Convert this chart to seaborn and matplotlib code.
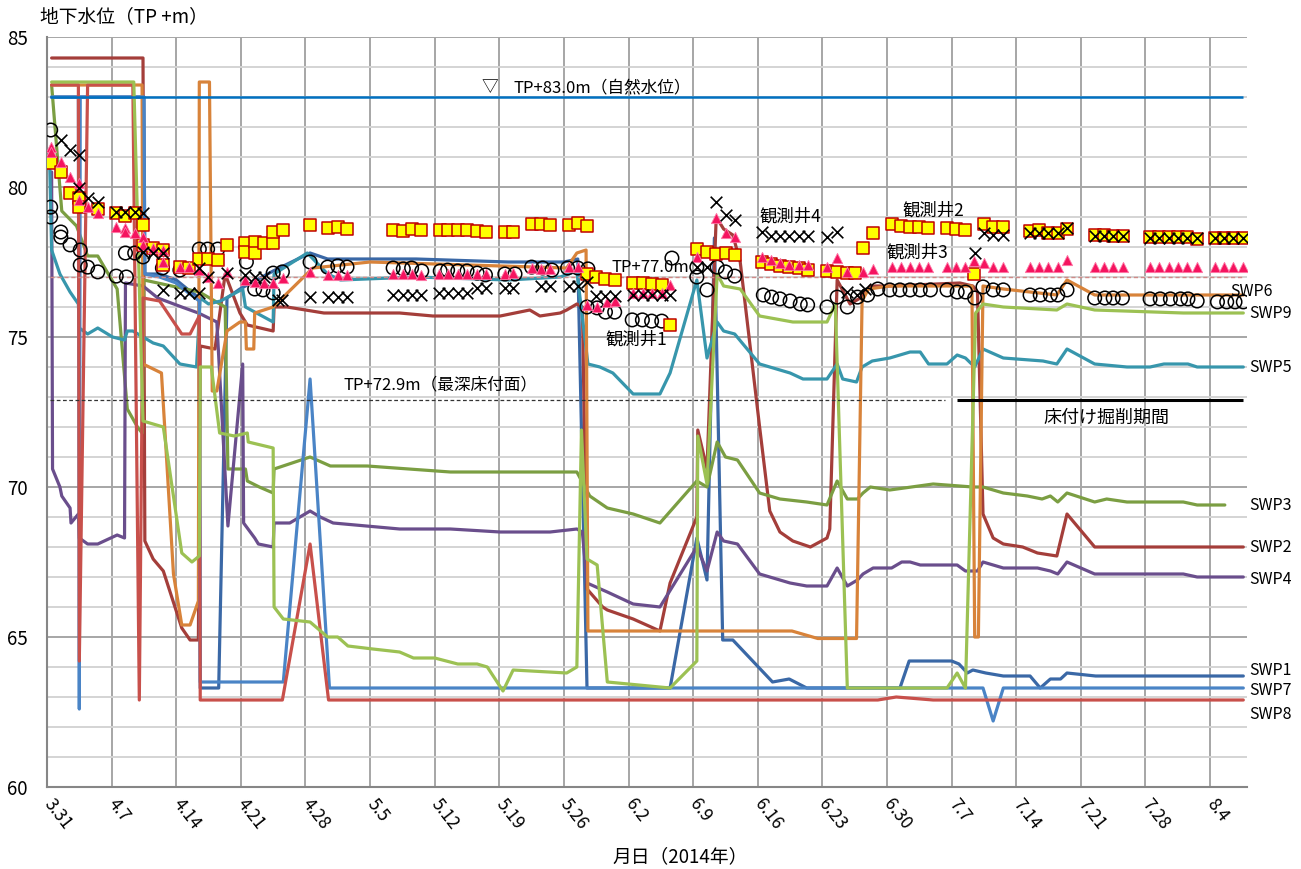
import matplotlib
matplotlib.use("Agg")
import matplotlib.pyplot as plt
from matplotlib.ticker import MultipleLocator
import pandas as pd
import seaborn as sns

# day 0 = 2014/3/31
week_ticks = [0, 7, 14, 21, 28, 35, 42, 49, 56, 63, 70, 77, 84, 91, 98, 105, 112, 119, 126]
week_labels = ["3.31", "4.7", "4.14", "4.21", "4.28", "5.5", "5.12", "5.19", "5.26", "6.2",
               "6.9", "6.16", "6.23", "6.30", "7.7", "7.14", "7.21", "7.28", "8.4"]

swp1_day = [0.5, 10.5, 10.6, 12.2, 14.0, 15.2, 16.5, 16.6, 18.6, 19.5, 20.9, 24.5, 28.5, 30.4, 40, 50,
            56.0, 57.5, 58.5, 67.5, 70.4, 71.5, 72.3, 73.2, 74.3, 78.6, 80.4, 82.3, 92.4, 93.4, 98.0,
            98.8, 99.7, 100.3, 101.7, 103.6, 106.5, 107.6, 108.7, 109.8, 110.5, 113.6, 114.3, 129.6]
swp1_lvl = [83.0, 83.0, 77.1, 77.1, 76.9, 76.6, 76.3, 63.3, 63.3, 76.3, 76.6, 77.2, 77.8, 77.6, 77.6, 77.5,
            77.5, 77.6, 63.3, 63.3, 68.3, 66.9, 78.3, 64.9, 64.9, 63.5, 63.6, 63.3, 63.3, 64.2, 64.2,
            64.1, 63.8, 63.9, 63.8, 63.7, 63.7, 63.3, 63.6, 63.6, 63.8, 63.7, 63.7, 63.7]

swp2_day = [0.5, 10.4, 10.6, 11.5, 12.6, 14.6, 15.5, 16.4, 16.6, 18.2, 19.3, 20.9, 21.7, 24.5, 24.6, 26.0,
            30.0, 35.0, 38.2, 41.8, 45.0, 49.1, 52.3, 53.4, 55.6, 56.3, 57.4, 58.0, 58.5, 60.2, 60.7, 63.5,
            66.4, 67.5, 70.4, 70.5, 71.5, 72.5, 73.3, 74.3, 75.1, 77.2, 78.3, 79.4, 80.8, 82.7, 84.5, 84.8,
            85.6, 87.0, 88.1, 89.2, 91.3, 98.9, 100.3, 100.8, 101.4, 102.5, 103.6, 105.7, 107.3, 109.4,
            110.5, 113.5, 129.6]
swp2_lvl = [84.3, 84.3, 68.2, 67.6, 67.2, 65.3, 64.9, 64.9, 74.7, 74.6, 77.1, 75.8, 75.4, 75.2, 76.0, 76.0,
            75.8, 75.8, 75.8, 75.7, 75.7, 75.7, 75.9, 75.7, 75.8, 75.9, 76.1, 76.0, 66.6, 66.0, 65.9, 65.6,
            65.2, 66.8, 69.0, 71.9, 70.6, 79.0, 78.6, 78.4, 77.5, 72.0, 69.2, 68.5, 68.2, 68.0, 68.3, 68.6,
            76.9, 76.1, 76.3, 76.7, 76.7, 76.8, 76.7, 76.5, 69.1, 68.3, 68.1, 68.0, 67.8, 67.7,
            69.1, 68.0, 68.0]

swp3_day = [0.5, 1.6, 3.2, 4.4, 5.5, 7.6, 8.7, 9.8, 10.3, 10.5, 16.5, 19.3, 19.6, 21.5, 21.7, 23.0,
            24.5, 24.6, 28.5, 30.7, 34.7, 43.7, 55.0, 57.4, 58.8, 60.7, 63.5, 66.4, 70.4, 71.5, 72.6,
            73.5, 74.8, 77.2, 79.4, 82.3, 84.5, 85.6, 86.7, 87.8, 88.4, 89.2, 91.3, 96.0, 100.3, 101.4,
            103.6, 106.2, 107.8, 108.7, 109.5, 110.5, 113.5, 114.8, 117.0, 123.1, 124.6, 127.6]
swp3_lvl = [83.4, 79.2, 78.7, 77.7, 77.7, 76.6, 72.6, 72.0, 71.8, 76.9, 76.5, 76.0, 70.6, 70.6, 70.2, 70.0,
            69.8, 70.6, 71.0, 70.7, 70.7, 70.5, 70.5, 70.5, 69.7, 69.3, 69.1, 68.8, 70.2, 70.0, 71.5,
            71.0, 70.9, 69.8, 69.6, 69.5, 69.4, 70.2, 69.6, 69.6, 69.8, 70.0, 69.9, 70.1, 70.0, 70.0,
            69.8, 69.7, 69.6, 69.7, 69.5, 69.8, 69.5, 69.6, 69.5, 69.5, 69.4, 69.4]

swp4_day = [0.5, 0.6, 1.4, 1.6, 2.5, 2.6, 3.4, 3.5, 4.4, 5.5, 7.6, 8.4, 8.5, 10.4, 12.0, 14.6, 16.4, 18.4,
            19.6, 21.2, 21.3, 22.5, 22.9, 24.5, 24.6, 26.3, 28.5, 29.6, 31.0, 38.2, 43.7, 49.1, 54.5, 57.4,
            58.0, 58.5, 60.7, 63.5, 66.4, 70.4, 71.5, 72.6, 73.3, 74.8, 77.2, 80.5, 82.3, 84.5, 85.6, 86.7,
            87.8, 88.4, 89.5, 91.5, 92.6, 93.5, 94.6, 98.6, 99.5, 100.8, 101.4, 103.6, 107.3, 108.7, 109.5,
            110.5, 113.5, 114.8, 116.5, 123.1, 124.6, 129.6]
swp4_lvl = [80.5, 70.6, 70.0, 69.7, 69.3, 68.8, 69.1, 68.3, 68.1, 68.1, 68.4, 68.3, 76.8, 76.7, 76.3, 76.0,
            75.8, 75.5, 68.7, 74.1, 68.8, 68.3, 68.1, 68.0, 68.8, 68.8, 69.2, 69.0, 68.8, 68.6, 68.6, 68.5,
            68.5, 68.6, 68.5, 66.8, 66.5, 66.1, 66.0, 68.0, 67.2, 68.5, 68.2, 68.1, 67.1, 66.8, 66.7, 66.7,
            67.3, 66.7, 66.9, 67.1, 67.3, 67.3, 67.5, 67.5, 67.4, 67.4, 67.2, 67.2, 67.5, 67.3, 67.3, 67.2,
            67.1, 67.5, 67.1, 67.1, 67.1, 67.1, 67.0, 67.0]

swp5_day = [0.3, 0.5, 1.4, 2.5, 3.4, 3.5, 4.4, 5.5, 7.1, 8.4, 8.7, 9.3, 10.4, 11.5, 12.6, 14.4, 16.2, 16.6,
            17.5, 18.8, 21.2, 21.5, 24.5, 24.6, 28.2, 30.4, 31.8, 40.0, 50.0, 55.6, 57.4, 58.6, 59.9, 61.3,
            63.5, 66.4, 67.5, 70.4, 71.5, 72.6, 73.3, 74.5, 77.2, 80.5, 81.9, 84.5, 85.6, 86.2, 87.7, 88.3,
            89.4, 91.3, 92.4, 93.5, 94.6, 95.5, 97.5, 98.6, 99.5, 100.5, 101.4, 103.6, 107.9, 109.4, 110.5,
            113.5, 117.0, 119.5, 121.0, 123.6, 124.6, 129.6]
swp5_lvl = [80.7, 77.9, 77.1, 76.5, 76.1, 75.3, 75.1, 75.3, 75.0, 74.9, 75.2, 75.2, 75.0, 74.8, 74.7, 74.1,
            74.0, 76.3, 76.1, 76.2, 76.6, 76.0, 75.5, 77.1, 77.8, 77.1, 76.9, 77.0, 76.9, 77.0, 77.2, 74.1,
            74.0, 73.8, 73.1, 73.1, 73.8, 76.9, 74.3, 75.5, 75.2, 75.1, 74.1, 73.8, 73.6, 73.6, 74.1, 73.6,
            73.5, 74.0, 74.2, 74.3, 74.4, 74.5, 74.5, 74.1, 74.1, 74.4, 74.3, 74.0, 74.6, 74.3, 74.2, 74.1,
            74.6, 74.1, 74.0, 74.0, 74.1, 74.1, 74.0, 74.0]

swp6_day = [0.5, 10.3, 10.4, 12.4, 13.7, 14.6, 15.5, 16.4, 16.5, 17.6, 17.9, 18.4, 19.5, 20.9, 21.5, 21.6,
            22.4, 22.5, 24.5, 28.8, 35.0, 56.3, 57.4, 58.4, 58.6, 64.0, 80.7, 83.5, 87.7, 88.3, 89.0, 91.3,
            100.2, 100.5, 100.9, 101.4, 103.6, 109.4, 110.5, 113.5, 129.6]
swp6_lvl = [83.4, 83.4, 74.1, 73.8, 67.1, 65.4, 65.4, 66.2, 83.5, 83.5, 73.2, 73.2, 75.2, 75.5, 75.5, 74.6,
            74.6, 75.8, 76.0, 77.3, 77.5, 77.3, 77.8, 77.9, 65.2, 65.2, 65.2, 64.95, 64.95, 76.2, 76.6, 76.7,
            76.7, 65.0, 65.0, 76.7, 76.6, 76.4, 76.9, 76.4, 76.4]

swp7_day = [0.5, 3.4, 3.5, 3.6, 10.5, 10.6, 12.2, 14.0, 15.2, 16.5, 16.6, 25.6, 28.5, 30.6, 60, 101.4,
            102.5, 103.6, 129.6]
swp7_lvl = [83.0, 83.0, 62.6, 83.0, 83.0, 77.1, 77.0, 76.8, 76.5, 76.2, 63.5, 63.5, 73.6, 63.3, 63.3, 63.3,
            62.2, 63.3, 63.3]

swp8_day = [0.5, 3.4, 3.5, 4.4, 9.3, 10.0, 10.4, 12.2, 14.6, 15.5, 16.5, 16.6, 25.5, 28.5, 30.5, 45, 60,
            75, 90, 92, 96, 110, 129.6]
swp8_lvl = [83.4, 83.4, 64.2, 83.4, 83.4, 62.9, 76.3, 76.2, 75.1, 75.1, 75.7, 62.9, 62.9, 68.1, 62.9, 62.9,
            62.9, 62.9, 62.9, 63.0, 62.9, 62.9, 62.9]

swp9_day = [0.5, 9.4, 10.4, 11.5, 12.6, 14.6, 15.7, 16.5, 16.6, 17.8, 18.7, 20.3, 21.7, 21.8, 24.5, 24.6,
            25.6, 28.5, 30.4, 31.5, 32.6, 35.3, 38.2, 39.7, 42.0, 44.5, 46.6, 47.7, 49.4, 50.5, 56.3, 57.4,
            57.9, 58.5, 59.6, 60.7, 67.5, 70.4, 70.5, 71.5, 72.6, 73.3, 75.1, 77.2, 80.8, 84.5, 85.4, 86.7,
            97.5, 98.6, 99.5, 100.6, 101.4, 103.6, 109.4, 110.5, 113.5, 123.1, 124.6, 129.6]
swp9_lvl = [83.5, 83.5, 72.2, 72.1, 72.0, 67.8, 67.5, 67.7, 74.0, 74.0, 71.8, 71.7, 71.8, 71.5, 71.3, 66.0,
            65.6, 65.5, 65.0, 65.0, 64.7, 64.6, 64.5, 64.3, 64.3, 64.1, 64.1, 64.0, 63.2, 63.9, 63.8, 64.0,
            71.9, 67.6, 67.4, 63.5, 63.3, 64.2, 71.7, 70.1, 77.1, 76.7, 76.6, 75.7, 75.5, 75.5, 76.1, 63.3,
            63.3, 63.8, 63.3, 75.8, 76.1, 76.0, 75.9, 76.1, 75.9, 75.8, 75.8, 75.8]

# observation wells
obs1_day = [0.4, 0.4, 0.4, 1.5, 1.5, 2.5, 3.6, 3.6, 4.4, 5.5, 7.5, 8.5, 8.6, 9.5, 10.4, 12.5, 14.4, 16.5,
            17.4, 18.5, 21.6, 22.5, 23.4, 24.5, 24.5, 25.5, 28.5, 30.4, 31.5, 32.5, 37.5, 38.6, 39.5, 40.6,
            42.6, 43.4, 44.5, 45.5, 46.6, 47.5, 49.6, 50.7, 52.5, 53.7, 54.7, 56.4, 57.5, 58.6, 58.5, 59.6,
            60.5, 61.5, 63.4, 64.5, 65.5, 66.6, 67.7, 70.4, 70.4, 71.5, 72.6, 73.5, 74.5, 77.6, 78.5, 79.4,
            80.5, 81.6, 82.4, 84.5, 85.6, 86.7, 87.8, 88.9, 90.0, 91.3, 92.4, 93.5, 94.6, 95.7, 97.5, 98.6,
            99.5, 100.5, 101.4, 102.5, 103.6, 106.5, 107.6, 108.7, 109.5, 110.5, 113.5, 114.6, 115.5, 116.5,
            119.5, 120.6, 121.7, 122.8, 123.6, 124.6, 126.8, 127.8, 128.7, 129.6]
obs1_lvl = [81.9, 79.33, 79.0, 78.5, 78.33, 78.07, 77.9, 77.4, 77.33, 77.17, 77.03, 77.8, 77.0, 77.8, 77.67,
            77.3, 77.23, 77.93, 77.93, 77.93, 77.5, 76.6, 76.57, 76.47, 77.13, 77.17, 77.5, 77.33, 77.37,
            77.33, 77.3, 77.27, 77.3, 77.2, 77.2, 77.23, 77.2, 77.2, 77.13, 77.07, 77.1, 77.1, 77.33, 77.3,
            77.23, 77.3, 77.3, 77.27, 76.0, 75.97, 75.83, 75.83, 75.57, 75.57, 75.53, 75.53, 77.63, 77.33,
            77.0, 76.57, 77.33, 77.17, 77.03, 76.4, 76.33, 76.27, 76.2, 76.1, 76.07, 76.0, 76.33, 76.0, 76.33,
            76.4, 76.6, 76.57, 76.57, 76.57, 76.57, 76.57, 76.57, 76.5, 76.5, 76.3, 76.67, 76.57, 76.57, 76.4,
            76.4, 76.4, 76.4, 76.57, 76.3, 76.3, 76.3, 76.3, 76.27, 76.27, 76.27, 76.27, 76.27, 76.2, 76.17,
            76.17, 76.17, 76.17]

obs2_day = [0.4, 1.5, 2.5, 3.5, 3.5, 5.5, 7.5, 8.5, 9.5, 10.4, 10.4, 11.5, 12.6, 12.6, 14.4, 15.4, 16.5,
            17.4, 18.5, 19.5, 21.5, 21.5, 22.5, 22.5, 23.5, 24.5, 24.5, 25.6, 28.5, 30.4, 31.5, 32.5, 37.5,
            38.6, 39.5, 40.5, 42.6, 43.4, 44.5, 45.5, 46.6, 47.6, 49.6, 50.5, 52.5, 53.5, 54.5, 56.6, 57.5,
            58.5, 58.5, 59.5, 60.5, 61.5, 63.5, 64.6, 65.5, 66.6, 67.5, 70.4, 71.5, 72.5, 73.6, 74.5, 77.5,
            78.4, 79.4, 80.4, 81.5, 82.4, 84.5, 85.6, 86.7, 87.5, 88.4, 89.5, 91.5, 92.5, 93.5, 94.5, 95.4,
            97.5, 98.5, 99.5, 100.4, 101.5, 102.5, 103.6, 106.5, 107.5, 108.4, 109.5, 110.5, 113.5, 114.5,
            115.5, 116.6, 119.5, 120.5, 121.5, 122.5, 123.5, 124.6, 126.5, 127.5, 128.5, 129.6]
obs2_lvl = [80.8, 80.5, 79.8, 79.63, 79.33, 79.27, 79.13, 79.03, 79.13, 78.73, 78.07, 77.97, 77.9, 77.4,
            77.33, 77.3, 77.6, 77.6, 77.57, 78.07, 78.13, 77.83, 78.17, 77.8, 78.13, 78.13, 78.5, 78.57,
            78.73, 78.63, 78.67, 78.6, 78.57, 78.53, 78.6, 78.57, 78.57, 78.57, 78.57, 78.57, 78.53, 78.5,
            78.5, 78.5, 78.77, 78.77, 78.73, 78.73, 78.8, 78.7, 77.1, 77.0, 76.93, 76.9, 76.8, 76.8, 76.77,
            76.73, 75.4, 77.93, 77.83, 77.77, 77.8, 77.73, 77.5, 77.43, 77.37, 77.33, 77.3, 77.23, 77.2,
            77.17, 77.13, 77.13, 77.97, 78.47, 78.77, 78.7, 78.67, 78.67, 78.63, 78.63, 78.6, 78.57, 77.1,
            78.77, 78.67, 78.67, 78.53, 78.57, 78.47, 78.47, 78.6, 78.4, 78.4, 78.37, 78.37, 78.33, 78.33,
            78.33, 78.33, 78.33, 78.27, 78.3, 78.3, 78.3, 78.3]

obs3_day = [0.4, 0.4, 1.5, 2.5, 3.5, 3.5, 4.4, 5.5, 7.5, 8.5, 8.5, 9.5, 10.4, 10.4, 11.5, 12.6, 12.6, 14.4,
            15.4, 16.5, 17.4, 18.5, 19.5, 21.5, 22.5, 23.5, 24.5, 25.6, 28.5, 30.4, 31.5, 32.5, 37.5, 38.6,
            39.5, 40.5, 42.5, 43.4, 44.5, 45.5, 46.6, 47.6, 49.6, 50.5, 52.5, 53.5, 54.5, 56.6, 57.5, 58.5,
            59.6, 60.7, 61.5, 63.5, 64.6, 65.5, 66.6, 67.5, 70.4, 72.5, 73.6, 74.5, 77.5, 78.4, 79.4, 80.4,
            81.5, 82.4, 84.5, 85.6, 86.7, 88.4, 89.5, 91.5, 92.5, 93.5, 94.5, 95.4, 97.5, 98.5, 99.5, 100.4,
            101.5, 102.5, 103.6, 106.5, 107.5, 108.4, 109.5, 110.5, 113.5, 114.5, 115.5, 116.6, 119.5,
            120.5, 121.5, 122.5, 123.5, 124.6, 126.5, 127.5, 128.5, 129.6]
obs3_lvl = [81.33, 81.17, 80.83, 80.33, 80.13, 79.57, 79.33, 79.13, 78.67, 78.63, 78.5, 78.47, 78.33, 78.07,
            77.97, 77.9, 77.5, 77.33, 77.33, 77.23, 77.0, 76.8, 77.17, 76.9, 76.83, 76.8, 76.8, 76.97, 77.17,
            77.07, 77.07, 77.07, 77.1, 77.1, 77.1, 77.07, 77.1, 77.1, 77.1, 77.1, 77.1, 77.1, 77.1, 77.13,
            77.3, 77.27, 77.27, 77.33, 77.33, 76.07, 76.0, 76.17, 76.2, 76.47, 76.47, 76.47, 76.47, 76.73,
            77.67, 78.97, 78.47, 78.33, 77.67, 77.57, 77.47, 77.4, 77.4, 77.4, 77.33, 77.63, 77.17, 77.17,
            77.27, 77.33, 77.33, 77.33, 77.33, 77.33, 77.33, 77.33, 77.33, 77.53, 77.47, 77.33, 77.33, 77.33,
            77.33, 77.33, 77.33, 77.57, 77.33, 77.33, 77.33, 77.33, 77.33, 77.33, 77.33, 77.33, 77.33, 77.33,
            77.33, 77.33, 77.33, 77.33]

obs4_day = [1.5, 2.5, 3.5, 3.5, 4.4, 5.5, 7.5, 8.5, 9.5, 10.4, 10.4, 11.5, 12.6, 12.6, 14.4, 15.4, 16.5,
            16.5, 17.4, 19.5, 21.5, 22.5, 23.5, 25.0, 25.5, 28.5, 30.4, 31.5, 32.5, 37.5, 38.6, 39.5, 40.5,
            42.5, 43.4, 44.5, 45.5, 46.6, 47.6, 49.6, 50.5, 53.5, 54.5, 56.6, 57.5, 58.5, 59.5, 60.5, 61.5,
            63.5, 64.6, 65.5, 66.6, 67.5, 70.4, 71.5, 72.5, 73.6, 74.5, 77.5, 78.4, 79.4, 80.4, 81.5, 82.4,
            84.5, 85.6, 86.7, 87.8, 88.6, 100.5, 101.5, 102.5, 103.6, 106.5, 107.5, 108.4, 109.5, 110.5,
            113.5, 114.5, 115.5, 116.6, 119.5, 120.5, 121.5, 122.5, 123.5, 124.6, 126.5, 127.5, 128.5, 129.6]
obs4_lvl = [81.57, 81.23, 81.07, 79.97, 79.63, 79.5, 79.17, 79.17, 79.17, 79.13, 77.83, 77.8, 77.8, 76.57,
            76.47, 76.47, 76.47, 77.3, 77.0, 77.13, 77.07, 77.0, 77.0, 76.23, 76.23, 76.33, 76.33, 76.33,
            76.33, 76.4, 76.4, 76.4, 76.4, 76.47, 76.47, 76.47, 76.47, 76.63, 76.63, 76.63, 76.63, 76.7,
            76.7, 76.7, 76.7, 76.83, 76.37, 76.37, 76.37, 76.4, 76.4, 76.4, 76.4, 76.4, 77.33, 77.33, 79.5,
            79.07, 78.9, 78.5, 78.37, 78.37, 78.37, 78.37, 78.37, 78.33, 78.5, 76.5, 76.4, 76.6, 77.8, 78.47,
            78.4, 78.4, 78.47, 78.47, 78.47, 78.47, 78.63, 78.37, 78.37, 78.37, 78.37, 78.3, 78.3, 78.3, 78.3,
            78.3, 78.3, 78.3, 78.3, 78.3, 78.3]

natural_level = 83.0
ref_level = 77.0
deepest_level = 72.9
line_start, line_end = 0.3, 129.6
dashed_end = 97.3
excav_start = 98.6

swp_names = ["SWP1", "SWP2", "SWP3", "SWP4", "SWP5", "SWP6", "SWP7", "SWP8", "SWP9"]
swp_colors = ["#3A68A6", "#A43E3A", "#7B9E42", "#6A4E8C", "#3796AC", "#D8833A", "#4A84C6", "#C8504B", "#9CC153"]
swp_label_y = [63.87, 68.0, 69.4, 66.93, 74.0, 76.53, 63.23, 62.43, 75.8]

days = [swp1_day, swp2_day, swp3_day, swp4_day, swp5_day, swp6_day, swp7_day, swp8_day, swp9_day]
lvls = [swp1_lvl, swp2_lvl, swp3_lvl, swp4_lvl, swp5_lvl, swp6_lvl, swp7_lvl, swp8_lvl, swp9_lvl]
lines = pd.concat([pd.DataFrame({"day": d, "level": v, "well": n})
                   for d, v, n in zip(days, lvls, swp_names)], ignore_index=True)

sns.set_style("white")
plt.rcParams["font.family"] = ["Noto Sans CJK JP", "DejaVu Sans"]
plt.rcParams["text.color"] = "black"
plt.rcParams["xtick.labelcolor"] = "black"
plt.rcParams["ytick.labelcolor"] = "black"

fig = plt.figure(figsize=(13.01, 8.69), dpi=100)
ax = fig.add_axes([47 / 1301, 82 / 869, 1200 / 1301, 750 / 869])

sns.lineplot(data=lines, x="day", y="level", hue="well", hue_order=swp_names,
             palette=dict(zip(swp_names, swp_colors)), estimator=None, sort=False,
             linewidth=2.3, legend=False, ax=ax, solid_joinstyle="round")

ax.hlines(natural_level, line_start, line_end, color="#0070C0", lw=1.8, zorder=3)
ax.hlines(ref_level, line_start, line_end, color="#D08A88", lw=1.0, ls=(0, (3, 2)), zorder=3)
ax.hlines(deepest_level, line_start, dashed_end, color="#333333", lw=0.9, ls=(0, (3, 2)), zorder=3)
ax.hlines(deepest_level, excav_start, line_end, color="black", lw=2.2, zorder=3)

sns.scatterplot(x=obs1_day, y=obs1_lvl, marker="o", s=95, facecolors="none",
                edgecolor="black", linewidth=1.1, ax=ax, zorder=4)
sns.scatterplot(x=obs2_day, y=obs2_lvl, marker="s", s=72, color="#FFFF00",
                edgecolor="#C00000", linewidth=1.1, ax=ax, zorder=5)
sns.scatterplot(x=obs3_day, y=obs3_lvl, marker="^", s=55, color="#F5145F",
                edgecolor="#FF7AA8", linewidth=0.6, ax=ax, zorder=6)
sns.scatterplot(x=obs4_day, y=obs4_lvl, marker="x", s=70, color="black",
                linewidth=1.2, ax=ax, zorder=7)

ax.set_xlim(0, 130)
ax.set_ylim(60, 85)
ax.yaxis.set_major_locator(MultipleLocator(5))
ax.yaxis.set_minor_locator(MultipleLocator(1))
ax.set_xticks(week_ticks, week_labels)
ax.grid(axis="y", which="minor", color="#D4D4D4", lw=1.4)
ax.grid(axis="y", which="major", color="#A6A6A6", lw=1.4)
ax.grid(axis="x", which="major", color="#A6A6A6", lw=1.4)
ax.set_axisbelow(True)
for side in ["top", "right"]:
    ax.spines[side].set_visible(False)
for side in ["left", "bottom"]:
    ax.spines[side].set_color("#868686")
    ax.spines[side].set_linewidth(1.5)
ax.tick_params(axis="y", which="major", length=4, width=1.2, color="#868686", pad=10, labelsize=13.5)
ax.tick_params(axis="y", which="minor", length=0)
ax.tick_params(axis="x", length=5, width=1.2, color="#868686", pad=5, labelsize=12.5, labelrotation=-52)
for lab in ax.get_xticklabels():
    lab.set_ha("left")
    lab.set_va("center")
    lab.set_rotation_mode("anchor")
ax.set_xlabel("")
ax.set_ylabel("")

ax.text(48.0, 83.3, "▽", fontsize=12, ha="center", va="center")
ax.text(50.5, 83.3, "TP+83.0m（自然水位）", fontsize=12, ha="left", va="center")
ax.text(61.2, 77.3, "TP+77.0m", fontsize=12, ha="left", va="center")
ax.text(32.1, 73.4, "TP+72.9m（最深床付面）", fontsize=12, ha="left", va="center")
ax.text(107.9, 72.3, "床付け掘削期間", fontsize=13, ha="left", va="center")
ax.text(60.5, 74.9, "観測井1", fontsize=12.5, ha="left", va="center")
ax.text(77.2, 79.0, "観測井4", fontsize=12.5, ha="left", va="center")
ax.text(92.7, 79.2, "観測井2", fontsize=12.5, ha="left", va="center")
ax.text(90.9, 77.8, "観測井3", fontsize=12.5, ha="left", va="center")
for name, ly in zip(swp_names, swp_label_y):
    lx = 128.2 if name == "SWP6" else 130.3
    ax.text(lx, ly, name, fontsize=11.5, ha="left", va="center", clip_on=False)

fig.text(40 / 1301, 1 - 17 / 869, "地下水位（TP +m）", fontsize=13.5, ha="left", va="center")
fig.text(680 / 1301, 1 - 857 / 869, "月日（2014年）", fontsize=13.5, ha="center", va="center")

fig.savefig("out.png", dpi=100)
